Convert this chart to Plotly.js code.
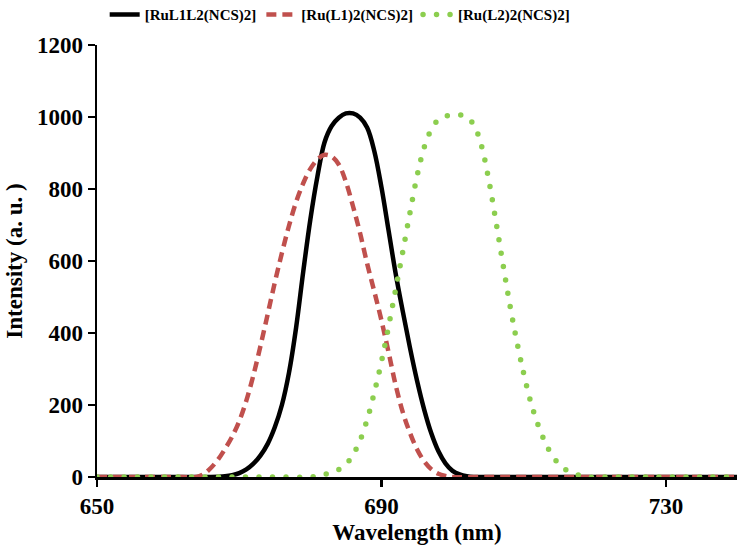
<!DOCTYPE html>
<html>
<head>
<meta charset="utf-8">
<script src="https://cdn.plot.ly/plotly-3.0.1.min.js"></script>
<style>
html,body{margin:0;padding:0;background:#fff;}
#chart{width:746px;height:552px;}
</style>
</head>
<body>
<div id="chart"></div>
<script>
// Series names
const seriesNames = ["[RuL1L2(NCS)2]", "[Ru(L1)2(NCS)2]", "[Ru(L2)2(NCS)2]"];

// [RuL1L2(NCS)2] (black solid)
const xBlack = [650, 652, 654, 656, 658, 660, 662, 664, 666, 668, 669, 670, 671, 672, 673, 674, 675, 676, 677, 678, 679, 680, 681, 682, 683, 684, 685, 686, 687, 688, 689, 690, 691, 692, 693, 694, 695, 696, 697, 698, 699, 700, 701, 702, 703, 705, 710, 715, 720, 725, 730, 735, 740];
const yBlack = [0, 0, 0, 0, 0, 0, 0, 0, 0, 2, 5, 11, 21, 37, 60, 92, 138, 200, 290, 415, 570, 715, 835, 930, 975, 998, 1010, 1010, 998, 970, 905, 805, 685, 565, 460, 360, 268, 188, 122, 72, 38, 17, 7, 2, 0, 0, 0, 0, 0, 0, 0, 0, 0];

// [Ru(L1)2(NCS)2] (red dashed)
const xRed = [650, 652, 654, 656, 658, 660, 662, 664, 665, 666, 667, 668, 669, 670, 671, 672, 673, 674, 675, 676, 677, 678, 679, 680, 681, 682, 683, 684, 685, 686, 687, 688, 689, 690, 691, 692, 693, 694, 695, 696, 697, 698, 699, 700, 705, 710, 715, 720, 725, 730, 735, 740];
const yRed = [0, 0, 0, 0, 0, 0, 0, 0, 8, 25, 48, 78, 112, 155, 212, 283, 365, 452, 540, 622, 698, 764, 816, 856, 882, 895, 890, 868, 820, 752, 677, 592, 515, 435, 347, 255, 180, 123, 77, 44, 22, 9, 3, 0, 0, 0, 0, 0, 0, 0, 0, 0];

// [Ru(L2)2(NCS)2] (green dotted)
const xGreen = [650, 655, 660, 665, 670, 675, 680, 681, 682, 683, 684, 685, 686, 687, 688, 689, 690, 691, 692, 693, 694, 695, 696, 697, 698, 699, 700, 701, 702, 703, 704, 705, 706, 707, 708, 709, 710, 711, 712, 713, 714, 715, 716, 717, 718, 719, 722, 726, 730, 735, 740];
const yGreen = [0, 0, 0, 0, 0, 0, 0, 3, 7, 13, 21, 35, 62, 102, 160, 235, 320, 418, 521, 626, 733, 835, 915, 965, 992, 1002, 1005, 1006, 1000, 978, 925, 835, 722, 602, 485, 380, 288, 208, 146, 97, 60, 35, 19, 10, 4, 0, 0, 0, 0, 0, 0];

// Axis ticks
const xTicks = [650, 690, 730];
const yTicks = [0, 200, 400, 600, 800, 1000, 1200];

const FONT = "'Liberation Serif', 'Times New Roman', serif";

const traces = [
  {x: xBlack, y: yBlack, name: seriesNames[0], type: 'scatter', mode: 'lines',
   line: {color: '#000000', width: 4.5, shape: 'spline', smoothing: 1}},
  {x: xRed, y: yRed, name: seriesNames[1], type: 'scatter', mode: 'lines',
   line: {color: '#C0504D', width: 4.5, dash: '10px,6px', shape: 'spline', smoothing: 1}},
  {x: xGreen, y: yGreen, name: seriesNames[2], type: 'scatter', mode: 'lines',
   line: {color: '#8CCE4F', width: 5.5, dash: '0px,13.5px', shape: 'spline', smoothing: 1}}
];

const layout = {
  width: 746, height: 552,
  margin: {l: 97, r: 9, t: 45, b: 75, autoexpand: false},
  paper_bgcolor: '#ffffff', plot_bgcolor: '#ffffff',
  showlegend: true,
  legend: {
    orientation: 'h', x: 0.012, xanchor: 'left', y: 1.108, yanchor: 'top',
    font: {family: FONT, size: 15, color: '#000', weight: 'bold'},
    bgcolor: 'rgba(0,0,0,0)', itemclick: false
  },
  xaxis: {
    range: [650, 740], tickvals: xTicks, ticktext: xTicks.map(String),
    showgrid: false, zeroline: false, showline: true, linecolor: '#000', linewidth: 2.5,
    ticks: 'outside', ticklen: 7, tickwidth: 2.5, tickcolor: '#000',
    tickfont: {family: FONT, size: 23, color: '#000', weight: 'bold'},
    title: {text: 'Wavelength (nm)', font: {family: FONT, size: 23, color: '#000', weight: 'bold'}, standoff: 6}
  },
  yaxis: {
    range: [0, 1200], tickvals: yTicks, ticktext: yTicks.map(String),
    showgrid: false, zeroline: false, showline: true, linecolor: '#000', linewidth: 2.5,
    ticks: 'outside', ticklen: 7, tickwidth: 2.5, tickcolor: '#000',
    tickfont: {family: FONT, size: 23, color: '#000', weight: 'bold'},
    title: {text: 'Intensity (a. u. )', font: {family: FONT, size: 23, color: '#000', weight: 'bold'}, standoff: 8}
  }
};

Plotly.newPlot('chart', traces, layout, {displayModeBar: false, staticPlot: true}).then(function () {
  const tr = document.querySelectorAll('.scatterlayer .trace');
  if (tr[2]) tr[2].querySelectorAll('path').forEach(p => p.style.strokeLinecap = 'round');
  const lg = document.querySelectorAll('.legend .traces');
  if (lg[2]) lg[2].querySelectorAll('path').forEach(p => p.style.strokeLinecap = 'round');
});
</script>
</body>
</html>
